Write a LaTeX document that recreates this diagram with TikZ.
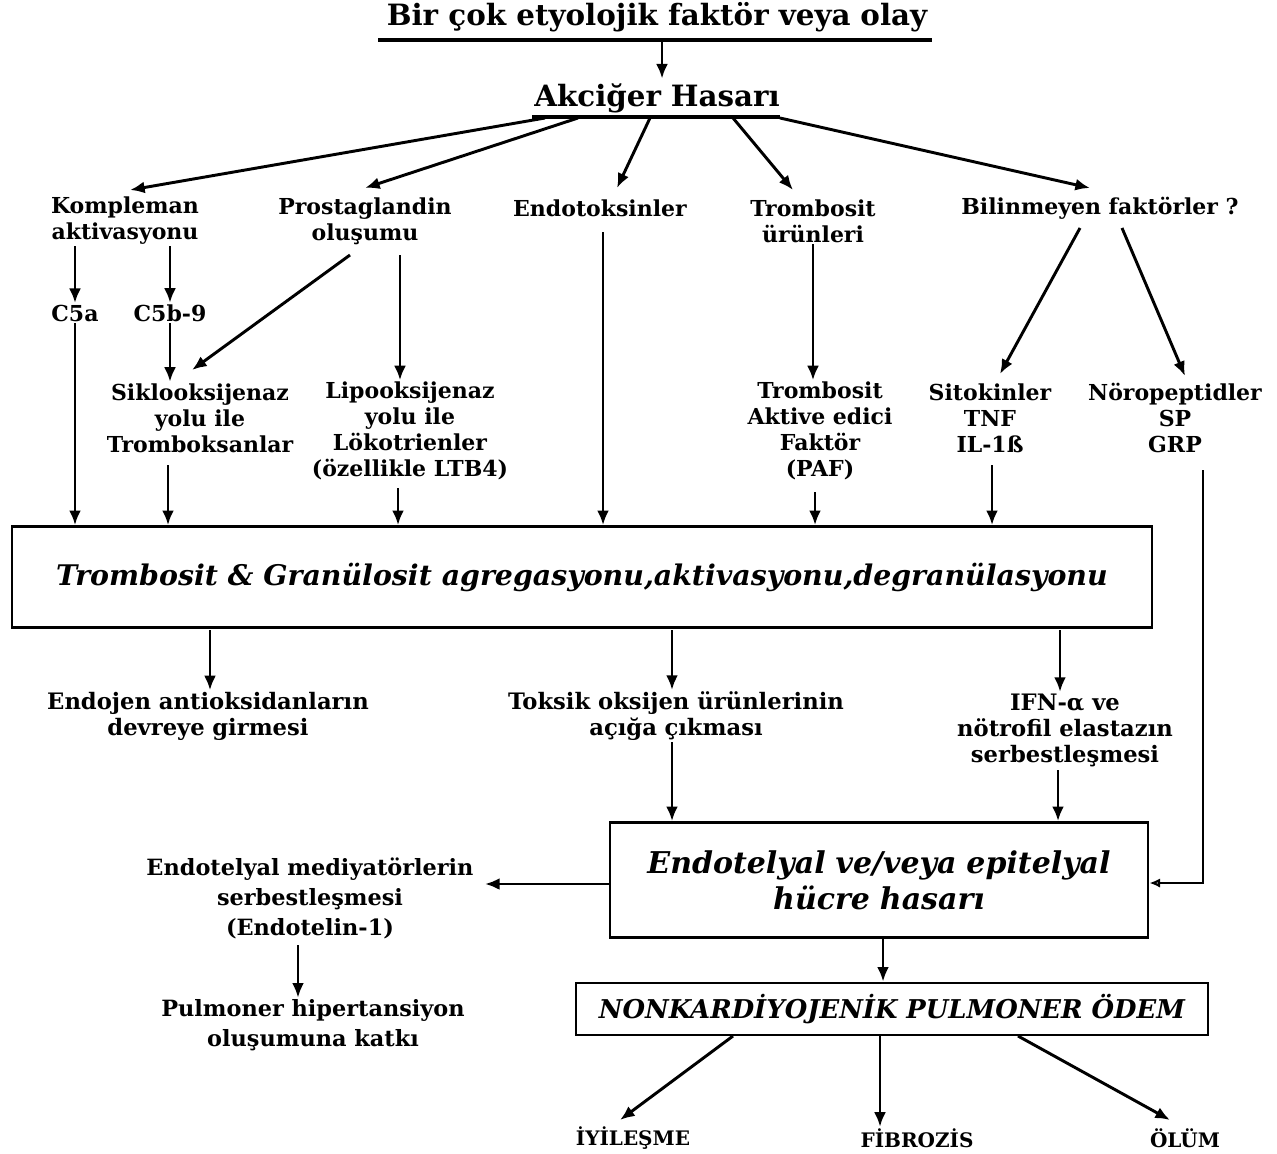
\documentclass[tikz,border=0pt]{standalone}
\usepackage{fontspec}
\setmainfont{DejaVu Serif}
\usetikzlibrary{arrows.meta,calc}
\begin{document}
\begin{tikzpicture}[x=0.75pt,y=-0.75pt,
  lbl/.style={font=\fontsize{16.5}{19.5}\selectfont\bfseries, align=center, inner sep=1pt},
  big/.style={font=\fontsize{22}{26}\selectfont\bfseries},
  arr/.style={line width=2.2pt, -{Latex[length=11pt,width=9pt]}},
  ul/.style={line width=2.5pt},
  box/.style={draw, line width=2pt, align=center, inner sep=0pt}]
\useasboundingbox (0,0) rectangle (1277,1153);
% top
\node[big] (title) at (657,17) {Bir çok etyolojik faktör veya\,\,olay};
\coordinate (tl) at (378,40); \coordinate (tr) at (932,40); \coordinate (t0) at (662,40);
\draw[ul] (tl) -- (tr);
\node[big] (ak) at (657,98) {Akciğer\,\,Hasarı};
\coordinate (akl) at (532,117); \coordinate (akr) at (780,117);
\draw[line width=3pt] (akl) -- (akr);
\draw[arr] (t0) -- (t0 |- ak.north);
\coordinate (a1) at (545,118); \coordinate (a2) at (578,118); \coordinate (a3) at (650,118);
\coordinate (a4) at (733,118); \coordinate (a5) at (780,118);
% level 1
\node[lbl] (komp) at (125,221) {Kompleman\\aktivasyonu};
\node[lbl] (prost) at (365,221) {Prostaglandin\\oluşumu};
\node[lbl] (endo) at (600,208) {Endotoksinler};
\node[lbl] (trom) at (813,221) {Trombosit\\ürünleri};
\node[lbl] (bil) at (1100,208) {Bilinmeyen faktörler ?};
\coordinate (e1) at (130,190); \coordinate (e2) at (365,188); \coordinate (e3) at (617,188);
\coordinate (e4) at (793,190); \coordinate (e5) at (1090,188);
\draw[arr] (a1) -- (e1);
\draw[arr] (a2) -- (e2);
\draw[arr] (a3) -- (e3);
\draw[arr] (a4) -- (e4);
\draw[arr] (a5) -- (e5);
% level 2
\node[lbl] (c5a) at (75,313) {C5a};
\node[lbl] (c5b) at (170,313) {C5b-9};
\draw[arr] (komp.south -| c5a.north) -- (c5a.north);
\draw[arr] (komp.south -| c5b.north) -- (c5b.north);
% level 3
\node[lbl] (siklo) at (200,418) {Siklooksijenaz\\yolu ile\\Tromboksanlar};
\node[lbl] (lipo) at (410,431) {Lipooksijenaz\\yolu ile\\Lökotrienler\\(özellikle LTB4)};
\node[lbl] (paf) at (820,431) {Trombosit\\Aktive edici\\Faktör\\(PAF)};
\node[lbl] (sito) at (990,418) {Sitokinler\\TNF\\IL-1ß};
\node[lbl] (noro) at (1175,418) {Nöropeptidler\\SP\\GRP};
\coordinate (p1) at (350,255); \coordinate (p2) at (400,255);
\coordinate (b1) at (1080,228); \coordinate (b2) at (1122,228);
\draw[arr] (c5b.south) -- (c5b.south |- siklo.north);
\draw[arr] (p1) -- (192,370);
\draw[arr] (p2) -- (p2 |- lipo.north);
\draw[arr] (trom.south) -- (trom.south |- paf.north);
\draw[arr] (b1) -- (1000,374);
\draw[arr] (b2) -- (1185,376);
% big box
\node[box, minimum width=855pt, minimum height=75.75pt,
  font=\fontsize{21.3}{26}\selectfont\bfseries\itshape] (agg) at (582,577)
  {Trombosit \& Granülosit agregasyonu,aktivasyonu,degranülasyonu};
\coordinate (s1) at (168,465); \coordinate (l1) at (398,488);
\coordinate (en1) at (603,232); \coordinate (pf1) at (815,492); \coordinate (st1) at (992,465);
\draw[arr] (c5a.south) -- (c5a.south |- agg.north);
\draw[arr] (s1) -- (s1 |- agg.north);
\draw[arr] (l1) -- (l1 |- agg.north);
\draw[arr] (en1) -- (en1 |- agg.north);
\draw[arr] (pf1) -- (pf1 |- agg.north);
\draw[arr] (st1) -- (st1 |- agg.north);
% below big box
\node[lbl, font=\fontsize{17}{19.5}\selectfont\bfseries] (endoj) at (208,716) {Endojen antioksidanların\\devreye\,\,girmesi};
\node[lbl, font=\fontsize{17}{19.5}\selectfont\bfseries] (toks) at (676,716) {Toksik oksijen ürünlerinin\\açığa\,\,çıkması};
\node[lbl, font=\fontsize{17}{19.5}\selectfont\bfseries] (ifn) at (1065,730) {IFN-α ve\\nötrofil elastazın\\serbestleşmesi};
\coordinate (d1) at (210,630); \coordinate (d2) at (672,630); \coordinate (d3) at (1060,630);
\draw[arr] (d1) -- (d1 |- endoj.north);
\draw[arr] (d2) -- (d2 |- toks.north);
\draw[arr] (d3) -- (d3 |- ifn.north);
% box2
\node[box, minimum width=403.5pt, minimum height=86.25pt,
  font=\fontsize{22.5}{27}\selectfont\bfseries\itshape] (hasar) at (879,880)
  {Endotelyal\,\,ve/veya\,\,epitelyal\\hücre\,\,hasarı};
\coordinate (tk) at (672,742); \coordinate (if) at (1058,770);
\draw[arr] (tk) -- (tk |- hasar.north);
\draw[arr] (if) -- (if |- hasar.north);
\coordinate (n0) at (1203,470); \coordinate (n1) at (1203,883);
\draw[line width=2pt, -{Latex[length=8pt,width=7pt,open]}] (n0) -- (n1) -- (hasar.east |- n1);
% left
\node[lbl, font=\fontsize{16.8}{22.5}\selectfont\bfseries] (medi) at (310,898) {Endotelyal mediyatörlerin\\serbestleşmesi\\(Endotelin-1)};
\node[lbl, font=\fontsize{16.8}{22.5}\selectfont\bfseries] (pulm) at (313,1025) {Pulmoner hipertansiyon\\oluşumuna katkı};
\coordinate (hw) at (610,884); \coordinate (m1) at (298,945);
\draw[arr] (hw) -- (485,884);
\draw[arr] (m1) -- (m1 |- pulm.north);
% box3
\node[box, minimum width=474pt, minimum height=39pt,
  font=\fontsize{19.4}{24}\selectfont\bfseries\itshape] (odem) at (892,1009)
  {NONKARDİYOJENİK PULMONER ÖDEM};
\coordinate (h1) at (883,938);
\draw[arr] (h1) -- (h1 |- odem.north);
\node[lbl, font=\fontsize{15}{19.5}\selectfont\bfseries] (iyi) at (633,1138) {İYİLEŞME};
\node[lbl, font=\fontsize{15}{19.5}\selectfont\bfseries] (fib) at (917,1138) {FİBROZİS};
\node[lbl, font=\fontsize{15}{19.5}\selectfont\bfseries] (olum) at (1185,1138) {ÖLÜM};
\coordinate (o1) at (733,1036); \coordinate (o2) at (880,1036); \coordinate (o3) at (1018,1036);
\draw[arr] (o1) -- (620,1120);
\draw[arr] (o2) -- (o2 |- fib.north);
\draw[arr] (o3) -- (1170,1120);
\end{tikzpicture}
\end{document}
